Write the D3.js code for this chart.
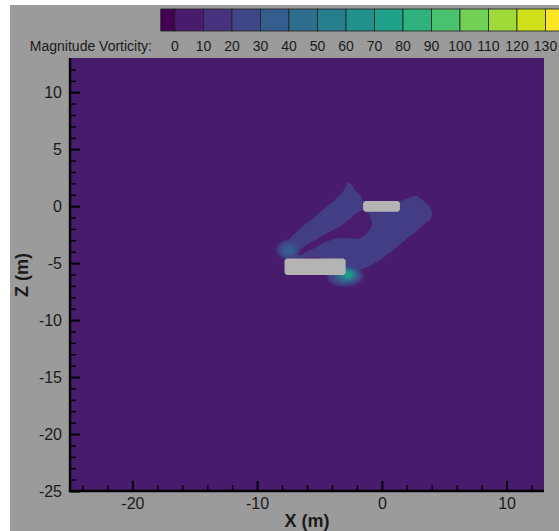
<!DOCTYPE html>
<html>
<head>
<meta charset="utf-8">
<script src="https://cdn.jsdelivr.net/npm/d3@7"></script>
<style>
  html, body { margin: 0; padding: 0; background: #ffffff; }
  svg { display: block; font-family: "Liberation Sans", Arial, sans-serif; }
</style>
</head>
<body>
<svg id="chart" width="559" height="531"></svg>
<script>
// Axis extents (metres) and ticks
const xDomain = [-25, 13];
const zDomain = [-25, 13];
const xMajorTicks = [-20, -10, 0, 10];
const xMinorTicks = [-24, -22, -18, -16, -14, -12, -8, -6, -4, -2, 2, 4, 6, 8, 12];
const zMajorTicks = [-25, -20, -15, -10, -5, 0, 5, 10];
const zMinorTicks = [-24, -23, -22, -21, -19, -18, -17, -16, -14, -13, -12, -11, -9, -8, -7, -6,
  -4, -3, -2, -1, 1, 2, 3, 4, 6, 7, 8, 9, 11, 12];

// Contour levels of the vorticity magnitude
const levelLabels = [0, 10, 20, 30, 40, 50, 60, 70, 80, 90, 100, 110, 120, 130];
const levelBands = [0, 1, 2, 3, 4, 5, 6, 7, 8, 9, 10, 11, 12, 13, 14]; // band k: (k-1)*10 .. k*10
const backgroundBand = 1;                  // 0 - 10 away from the bodies
const wakeBand = 2.5;                      // 10 - 20, shaded toward 20 in the wake

// Wake region outline (x, z in metres)
const wakeOutline = [
  [-8.08, -3.95], [-7.60, -3.16], [-6.96, -2.37], [-6.32, -1.76], [-5.60, -1.14],
  [-4.96, -0.53], [-4.15, 0.18], [-3.35, 0.97], [-2.95, 1.58], [-2.71, 2.02],
  [-2.39, 1.84], [-2.15, 1.40], [-1.75, 0.97], [-1.45, 0.45], [1.45, 0.45],
  [1.86, 0.61], [2.26, 0.79], [2.66, 0.88], [3.06, 0.70], [3.46, 0.35],
  [3.87, -0.09], [4.03, -0.61], [3.87, -1.14], [3.38, -1.58], [2.66, -2.28],
  [1.86, -2.99], [1.06, -3.69], [0.26, -4.39], [-0.55, -5.00], [-1.35, -5.44],
  [-2.15, -5.71], [-2.55, -6.15], [-2.79, -6.58], [-3.35, -6.67], [-3.75, -6.32],
  [-3.91, -5.62], [-4.96, -4.57], [-6.56, -4.57], [-7.52, -4.57], [-8.00, -4.39]
];

// Calm channel inside the wake (back at the 0 - 10 band)
const calmChannel = [
  [-1.51, -0.35], [-1.03, -0.79], [-0.79, -1.49], [-1.11, -2.28], [-1.75, -2.81],
  [-2.71, -2.81], [-3.51, -2.81], [-4.31, -3.07], [-5.12, -3.51], [-5.92, -3.95],
  [-6.56, -4.30], [-6.88, -4.21], [-6.32, -3.60], [-5.36, -2.99], [-4.39, -2.37],
  [-3.35, -1.76], [-2.55, -1.14], [-1.99, -0.61]
];

// Local vorticity peaks near the corners of the lower body
const peakX = [-7.50, -7.45, -2.95, -2.85, -2.75, -2.70];
const peakZ = [-3.80, -3.85, -6.10, -6.05, -6.00, -5.98];
const peakRx = [0.90, 0.50, 1.40, 0.90, 0.50, 0.25];
const peakRz = [0.80, 0.45, 0.90, 0.60, 0.38, 0.22];
const peakBand = [3, 4, 3, 5, 7, 8];

// Solid bodies (x0, x1, z0, z1)
const bodies = [
  [-7.8, -2.9, -6.05, -4.6],
  [-1.5, 1.45, -0.5, 0.45]
];

const svg = d3.select("#chart");
const W = 559, H = 531;
const plot = { left: 70, right: 544, top: 58, bottom: 491 };

const x = d3.scaleLinear().domain(xDomain).range([plot.left, plot.right]);
const z = d3.scaleLinear().domain(zDomain).range([plot.bottom, plot.top]);
const bandColor = d3.scaleSequential(d3.interpolateViridis).domain([0, 14]);

// page background
svg.append("rect").attr("width", W).attr("height", H).attr("fill", "#ffffff");
svg.append("rect").attr("x", 10).attr("y", 5).attr("width", W - 10).attr("height", H - 5)
  .attr("fill", "#9b9b9b");

const defs = svg.append("defs");
defs.append("clipPath").attr("id", "plotClip").append("rect")
  .attr("x", plot.left).attr("y", plot.top)
  .attr("width", plot.right - plot.left).attr("height", plot.bottom - plot.top);
const soft = defs.append("filter").attr("id", "soft")
  .attr("x", "-50%").attr("y", "-50%").attr("width", "200%").attr("height", "200%");
soft.append("feGaussianBlur").attr("stdDeviation", 1.6);
const edge = defs.append("filter").attr("id", "edge");
edge.append("feGaussianBlur").attr("stdDeviation", 0.4);

// field
const field = svg.append("g").attr("clip-path", "url(#plotClip)");
field.append("rect")
  .attr("x", plot.left).attr("y", plot.top)
  .attr("width", plot.right - plot.left).attr("height", plot.bottom - plot.top)
  .attr("fill", bandColor(backgroundBand));

const line = d3.line().x(d => x(d[0])).y(d => z(d[1])).curve(d3.curveCatmullRomClosed.alpha(0.5));

field.append("path").datum(wakeOutline).attr("d", line)
  .attr("fill", bandColor(wakeBand)).attr("filter", "url(#edge)");
field.append("path").datum(calmChannel).attr("d", line)
  .attr("fill", bandColor(backgroundBand)).attr("filter", "url(#edge)");

field.selectAll("ellipse.peak").data(d3.range(peakX.length)).join("ellipse")
  .attr("class", "peak")
  .attr("cx", i => x(peakX[i])).attr("cy", i => z(peakZ[i]))
  .attr("rx", i => x(peakRx[i]) - x(0)).attr("ry", i => z(0) - z(peakRz[i]))
  .attr("fill", i => bandColor(peakBand[i]))
  .attr("filter", "url(#soft)");

// bodies with slightly cut corners
field.selectAll("path.body").data(bodies).join("path")
  .attr("class", "body")
  .attr("d", b => {
    const x0 = x(b[0]), x1 = x(b[1]), y0 = z(b[3]), y1 = z(b[2]), c = 2;
    return `M${x0 + c},${y0}L${x1 - c},${y0}L${x1},${y0 + c}L${x1},${y1 - c}L${x1 - c},${y1}` +
           `L${x0 + c},${y1}L${x0},${y1 - c}L${x0},${y0 + c}Z`;
  })
  .attr("fill", "#b4b4b4");

// axes
const textColor = "#1a1a1a";
const fmt = d => String(d);
const axes = svg.append("g");

const gx = axes.append("g").attr("transform", `translate(0,${plot.bottom})`)
  .call(d3.axisBottom(x).tickValues(xMajorTicks).tickSizeInner(-10).tickSizeOuter(0)
    .tickPadding(7).tickFormat(fmt));
gx.select(".domain").remove();
gx.selectAll(".tick line").attr("stroke", "#000").attr("stroke-width", 2);
gx.selectAll(".tick text").attr("font-size", 16).attr("fill", textColor)
  .attr("font-family", "Liberation Sans, Arial, sans-serif");
const gxMinor = axes.append("g").attr("transform", `translate(0,${plot.bottom})`)
  .call(d3.axisBottom(x).tickValues(xMinorTicks).tickSizeInner(-6).tickSizeOuter(0).tickFormat(""));
gxMinor.select(".domain").remove();
gxMinor.selectAll(".tick line").attr("stroke", "#000").attr("stroke-width", 1.4);

const gz = axes.append("g").attr("transform", `translate(${plot.left},0)`)
  .call(d3.axisLeft(z).tickValues(zMajorTicks).tickSizeInner(-10).tickSizeOuter(0)
    .tickPadding(8).tickFormat(fmt));
gz.select(".domain").remove();
gz.selectAll(".tick line").attr("stroke", "#000").attr("stroke-width", 2);
gz.selectAll(".tick text").attr("font-size", 16).attr("fill", textColor)
  .attr("font-family", "Liberation Sans, Arial, sans-serif");
const gzMinor = axes.append("g").attr("transform", `translate(${plot.left},0)`)
  .call(d3.axisLeft(z).tickValues(zMinorTicks).tickSizeInner(-6).tickSizeOuter(0).tickFormat(""));
gzMinor.select(".domain").remove();
gzMinor.selectAll(".tick line").attr("stroke", "#000").attr("stroke-width", 1.4);

// axis lines (left and bottom)
axes.append("path")
  .attr("d", `M${plot.left},${plot.top}V${plot.bottom}H${plot.right}`)
  .attr("fill", "none").attr("stroke", "#000").attr("stroke-width", 2.4);

// axis titles
svg.append("text").attr("x", (x(xDomain[0]) + x(xDomain[1])) / 2).attr("y", 527)
  .attr("text-anchor", "middle").attr("font-size", 18).attr("font-weight", "bold")
  .attr("fill", textColor).text("X (m)");
svg.append("text").attr("transform", "translate(28,275) rotate(-90)")
  .attr("text-anchor", "middle").attr("font-size", 18).attr("font-weight", "bold")
  .attr("fill", textColor).text("Z (m)");

// colour bar
const cb = d3.scaleLinear().domain([0, 130]).range([175, 545.5]);
const cbTop = 9, cbHeight = 22;
const cbg = svg.append("g");
cbg.selectAll("rect").data(levelBands).join("rect")
  .attr("x", k => k === 0 ? cb(-5) : cb((k - 1) * 10))
  .attr("y", cbTop)
  .attr("width", k => k === 0 ? cb(0) - cb(-5) : cb(10) - cb(0))
  .attr("height", cbHeight)
  .attr("fill", k => bandColor(k))
  .attr("stroke", "#222").attr("stroke-width", 0.8);
cbg.selectAll("text").data(levelLabels).join("text")
  .attr("x", v => cb(v)).attr("y", 51)
  .attr("text-anchor", "middle").attr("font-size", 14).attr("fill", textColor)
  .text(v => v);
svg.append("text").attr("x", 152).attr("y", 51).attr("text-anchor", "end")
  .attr("font-size", 14).attr("fill", textColor).text("Magnitude Vorticity:");
</script>
</body>
</html>
